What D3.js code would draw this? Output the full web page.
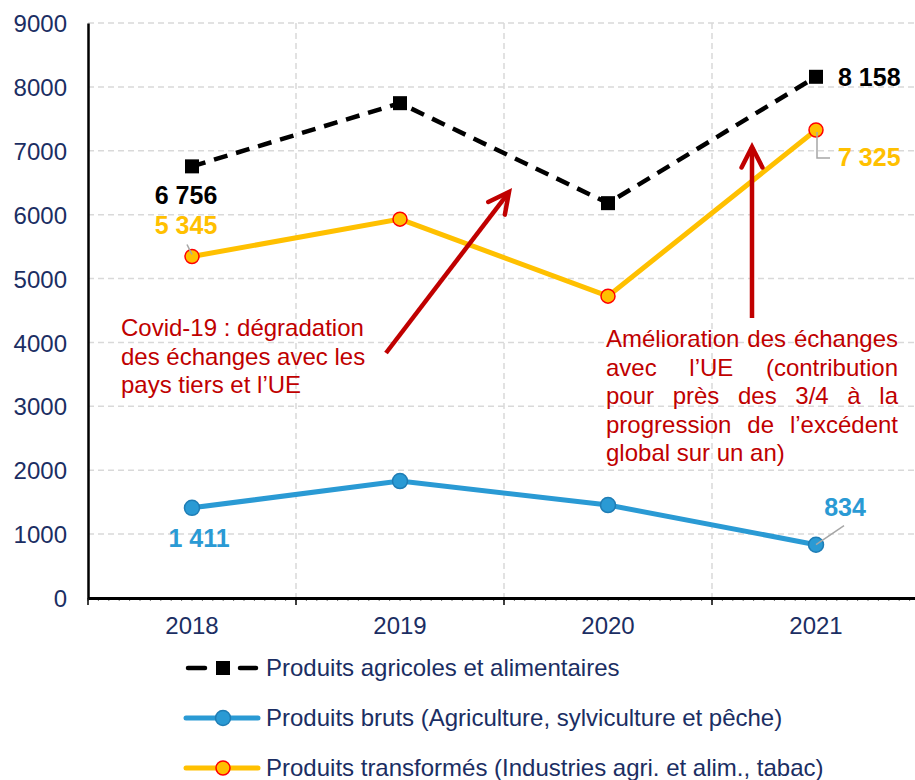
<!DOCTYPE html>
<html>
<head>
<meta charset="utf-8">
<script src="https://cdn.jsdelivr.net/npm/d3@7"></script>
<style>
  body { margin: 0; background: #fff; }
  svg { font-family: "Liberation Sans", Arial, sans-serif; }
</style>
</head>
<body>
<svg id="chart" width="915" height="780"></svg>
<script>
  const years = ['2018', '2019', '2020', '2021'];
  const agricoles = [6756, 7745, 6180, 8158];
  const bruts = [1411, 1830, 1455, 834];
  const transformes = [5345, 5930, 4725, 7325];
  const yTicks = [0, 1000, 2000, 3000, 4000, 5000, 6000, 7000, 8000, 9000];
  const legendLabels = [
    'Produits agricoles et alimentaires',
    'Produits bruts (Agriculture, sylviculture et pêche)',
    'Produits transformés (Industries agri. et alim., tabac)'
  ];
  const noteCovid = ['Covid-19 : dégradation', 'des échanges avec les', 'pays tiers et l\u2019UE'];
  const noteUE = ['Amélioration des échanges', 'avec l\u2019UE (contribution', 'pour près des 3/4 à la',
    'progression de l\u2019excédent', 'global sur un an)'];

  const navy = '#1B2E63';
  const blue = '#2A9AD4';
  const gold = '#FFC000';
  const red = '#C00000';
  const fs = '24px';

  const svg = d3.select('#chart');
  const plotL = 88, plotT = 23, plotB = 598, plotR = 920;

  const x = d3.scaleBand().domain(years).range([plotL, plotR]).paddingInner(0).paddingOuter(0);
  const y = d3.scaleLinear().domain([0, 9000]).range([plotB, plotT]);
  const cx = d => x(d) + x.bandwidth() / 2;

  // grid
  svg.append('g').selectAll('line').data(yTicks.filter(t => t > 0)).enter().append('line')
    .attr('x1', plotL).attr('x2', plotR)
    .attr('y1', d => y(d)).attr('y2', d => y(d))
    .attr('stroke', '#D9D9D9').attr('stroke-width', 1.5).attr('stroke-dasharray', '6 4');
  svg.append('g').selectAll('line').data(years.slice(1)).enter().append('line')
    .attr('x1', d => x(d)).attr('x2', d => x(d))
    .attr('y1', plotT).attr('y2', plotB)
    .attr('stroke', '#D9D9D9').attr('stroke-width', 1.5).attr('stroke-dasharray', '6 4');

  // y axis
  const yAxis = svg.append('g').attr('transform', `translate(${plotL},0)`)
    .call(d3.axisLeft(y).tickValues(yTicks).tickSize(0).tickPadding(21).tickFormat(d3.format('d')));
  yAxis.select('.domain').attr('stroke', '#000').attr('stroke-width', 2.5);
  yAxis.selectAll('text').attr('fill', navy).style('font-size', fs).attr('dy', '0.36em');

  // minor ticks on x axis
  const minor = d3.range(plotL, plotR, x.bandwidth() / 20);
  svg.append('g').selectAll('line').data(minor).enter().append('line')
    .attr('x1', d => d).attr('x2', d => d).attr('y1', plotB).attr('y2', plotB + 3)
    .attr('stroke', '#777').attr('stroke-width', 1);

  // x axis
  const xAxis = svg.append('g').attr('transform', `translate(0,${plotB})`)
    .call(d3.axisBottom(x).tickSize(0).tickPadding(19));
  xAxis.select('.domain').attr('stroke', '#000').attr('stroke-width', 3);
  xAxis.selectAll('text').attr('fill', navy).style('font-size', fs);
  svg.append('g').selectAll('line').data(years).enter().append('line')
    .attr('x1', d => x(d)).attr('x2', d => x(d)).attr('y1', plotB).attr('y2', plotB + 7)
    .attr('stroke', '#000').attr('stroke-width', 1.5);

  const line = d3.line().x((d, i) => cx(years[i])).y(d => y(d));

  // series
  svg.append('path').attr('d', line(bruts)).attr('fill', 'none')
    .attr('stroke', blue).attr('stroke-width', 5);
  svg.append('g').selectAll('circle').data(bruts).enter().append('circle')
    .attr('cx', (d, i) => cx(years[i])).attr('cy', d => y(d)).attr('r', 7.5)
    .attr('fill', blue).attr('stroke', '#1F7DB5').attr('stroke-width', 1.5);

  svg.append('path').attr('d', line(transformes)).attr('fill', 'none')
    .attr('stroke', gold).attr('stroke-width', 5);
  svg.append('g').selectAll('circle').data(transformes).enter().append('circle')
    .attr('cx', (d, i) => cx(years[i])).attr('cy', d => y(d)).attr('r', 7)
    .attr('fill', gold).attr('stroke', '#FF0000').attr('stroke-width', 1.5);

  svg.append('path').attr('d', line(agricoles)).attr('fill', 'none')
    .attr('stroke', '#000').attr('stroke-width', 4.5).attr('stroke-dasharray', '14 9');
  svg.append('g').selectAll('rect').data(agricoles).enter().append('rect')
    .attr('x', (d, i) => cx(years[i]) - 7).attr('y', d => y(d) - 7)
    .attr('width', 14).attr('height', 14).attr('fill', '#000');

  // data labels
  const fmt = v => d3.format(',')(v).replace(',', ' ');
  const label = (txt, px, py, color, anchor) => svg.append('text')
    .attr('x', px).attr('y', py).attr('fill', color).attr('text-anchor', anchor || 'middle')
    .style('font-size', '25px').style('font-weight', 'bold').text(txt);

  label(fmt(agricoles[0]), cx('2018') - 6, y(agricoles[0]) + 38, '#000');
  label(fmt(transformes[0]), cx('2018') - 6, y(transformes[0]) - 23, gold);
  svg.append('line').attr('x1', cx('2018') - 5).attr('y1', y(transformes[0]) - 12)
    .attr('x2', cx('2018')).attr('y2', y(transformes[0]) - 2).attr('stroke', '#A6A6A6').attr('stroke-width', 1.5);

  label(fmt(agricoles[3]), cx('2021') + 22, y(agricoles[3]) + 9, '#000', 'start');
  label(fmt(transformes[3]), cx('2021') + 22, y(transformes[3]) + 36, gold, 'start');
  svg.append('polyline')
    .attr('points', `${cx('2021') + 1},${y(transformes[3]) + 2} ${cx('2021') + 1},${y(transformes[3]) + 28} ${cx('2021') + 14},${y(transformes[3]) + 28}`)
    .attr('fill', 'none').attr('stroke', '#A6A6A6').attr('stroke-width', 1.5);

  label(fmt(bruts[0]), cx('2018') + 7, y(bruts[0]) + 39, blue);
  label(fmt(bruts[3]), cx('2021') + 29, y(bruts[3]) - 29, blue);
  svg.append('line').attr('x1', cx('2021')).attr('y1', y(bruts[3]))
    .attr('x2', cx('2021') + 28).attr('y2', y(bruts[3]) - 19).attr('stroke', '#A6A6A6').attr('stroke-width', 1.5);

  // arrows
  function arrow(x1, y1, x2, y2) {
    const a = Math.atan2(y1 - y2, x1 - x2);
    const len = 23, spread = 27 * Math.PI / 180;
    const p1 = [x2 + len * Math.cos(a - spread), y2 + len * Math.sin(a - spread)];
    const p2 = [x2 + len * Math.cos(a + spread), y2 + len * Math.sin(a + spread)];
    svg.append('line').attr('x1', x1).attr('y1', y1).attr('x2', x2).attr('y2', y2)
      .attr('stroke', red).attr('stroke-width', 4.5);
    svg.append('polyline').attr('points', `${p1} ${x2},${y2} ${p2}`)
      .attr('fill', 'none').attr('stroke', red).attr('stroke-width', 4.5)
      .attr('stroke-linejoin', 'miter').attr('stroke-linecap', 'round');
  }
  arrow(386, 353, 509, 192);
  arrow(752, 318, 752, 147);

  // notes
  svg.append('g').selectAll('text').data(noteCovid).enter().append('text')
    .attr('x', 121).attr('y', (d, i) => 336 + i * 28.5).attr('fill', red)
    .style('font-size', fs).text(d => d);

  // justified note
  const noteG = svg.append('g');
  const nx0 = 606, nx1 = 898;
  noteUE.forEach((ln, i) => {
    const ty = 347 + i * 28.5;
    const words = ln.split(' ');
    if (i === noteUE.length - 1) {
      noteG.append('text').attr('x', nx0).attr('y', ty).attr('fill', red).style('font-size', fs).text(ln);
      return;
    }
    const nodes = words.map(w => noteG.append('text').attr('y', ty).attr('fill', red)
      .style('font-size', fs).text(w));
    const widths = nodes.map(n => n.node().getComputedTextLength());
    const gap = (nx1 - nx0 - d3.sum(widths)) / (words.length - 1);
    let px = nx0;
    nodes.forEach((n, k) => { n.attr('x', px); px += widths[k] + gap; });
  });

  // legend
  const leg = svg.append('g');
  const lx0 = 186, lx1 = 258, lmx = 223, ltx = 266;
  const ly = [668, 718, 768];
  [[188, 205], [240, 256]].forEach(s => leg.append('line')
    .attr('x1', s[0]).attr('x2', s[1]).attr('y1', ly[0]).attr('y2', ly[0])
    .attr('stroke', '#000').attr('stroke-width', 4.5).attr('stroke-linecap', 'round'));
  leg.append('rect').attr('x', lmx - 7).attr('y', ly[0] - 7).attr('width', 14).attr('height', 14).attr('fill', '#000');
  leg.append('line').attr('x1', lx0).attr('x2', lx1).attr('y1', ly[1]).attr('y2', ly[1])
    .attr('stroke', blue).attr('stroke-width', 5).attr('stroke-linecap', 'round');
  leg.append('circle').attr('cx', lmx).attr('cy', ly[1]).attr('r', 7.5).attr('fill', blue)
    .attr('stroke', '#1F7DB5').attr('stroke-width', 1.5);
  leg.append('line').attr('x1', lx0).attr('x2', lx1).attr('y1', ly[2]).attr('y2', ly[2])
    .attr('stroke', gold).attr('stroke-width', 5).attr('stroke-linecap', 'round');
  leg.append('circle').attr('cx', lmx).attr('cy', ly[2]).attr('r', 7).attr('fill', gold)
    .attr('stroke', '#FF0000').attr('stroke-width', 1.5);
  leg.selectAll('text.lg').data(legendLabels).enter().append('text').attr('class', 'lg')
    .attr('x', ltx).attr('y', (d, i) => ly[i] + 8).attr('fill', navy)
    .style('font-size', fs).text(d => d);
</script>
</body>
</html>
